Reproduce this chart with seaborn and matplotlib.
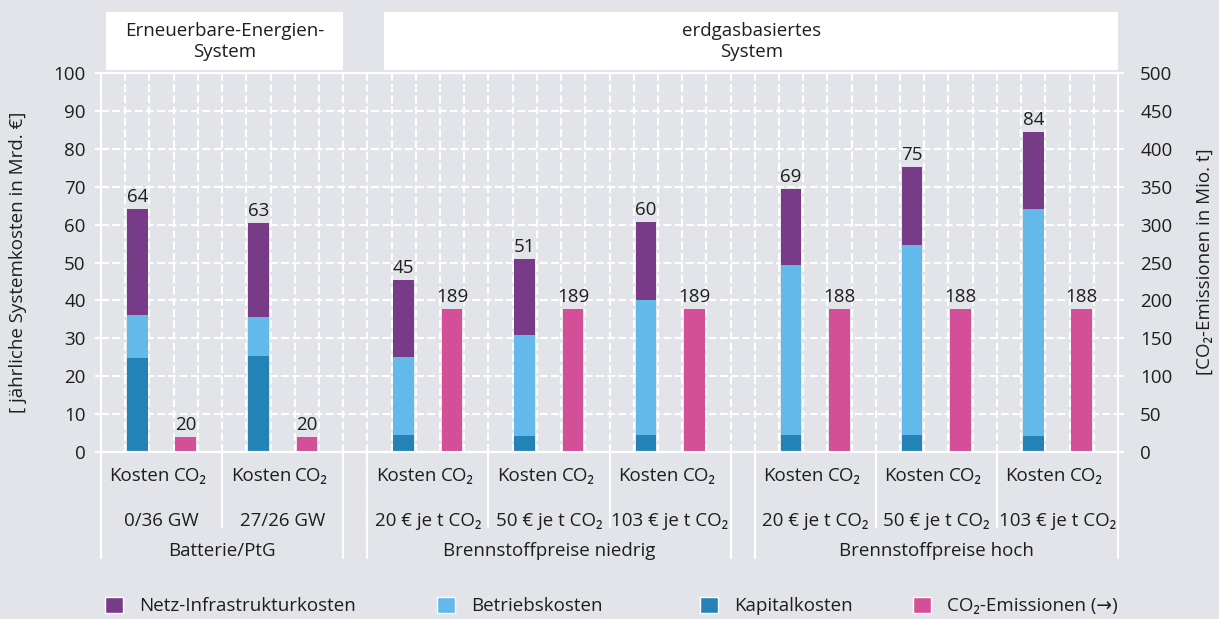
import matplotlib
matplotlib.use("Agg")
import matplotlib.pyplot as plt
import matplotlib.transforms as mtransforms
from matplotlib.patches import Patch, Rectangle
import numpy as np
import pandas as pd
import seaborn as sns

# --- data ------------------------------------------------------------------
header_labels = ["Erneuerbare-Energien-\nSystem", "erdgasbasiertes\nSystem"]
family_labels = ["Batterie/PtG", "Brennstoffpreise niedrig", "Brennstoffpreise hoch"]
family_sizes = [2, 3, 3]
scenario_labels = ["0/36 GW", "27/26 GW",
                   "20 € je t CO₂", "50 € je t CO₂", "103 € je t CO₂",
                   "20 € je t CO₂", "50 € je t CO₂", "103 € je t CO₂"]
bar_labels = ["Kosten", "CO₂"]

kapitalkosten = [24.8, 25.3, 4.5, 4.2, 4.5, 4.5, 4.5, 4.2]
betriebskosten = [11.3, 10.3, 20.6, 26.7, 35.6, 44.8, 50.1, 59.9]
netzkosten = [28.0, 24.8, 20.3, 20.0, 20.6, 20.1, 20.6, 20.3]
kosten_labels = [64, 63, 45, 51, 60, 69, 75, 84]
co2_emissionen = [20, 20, 189, 189, 189, 188, 188, 188]

legend_labels = ["Netz-Infrastrukturkosten", "Betriebskosten", "Kapitalkosten",
                 "CO₂-Emissionen (→)"]

# --- style -------------------------------------------------------------------
BG = "#e3e4e9"
C_NETZ = "#773b88"
C_BETRIEB = "#63b9e9"
C_KAPITAL = "#2383b6"
C_CO2 = "#d35098"
TXT = "#1e1e1e"
FS = 13.5

sns.set_theme(style="ticks", rc={"axes.facecolor": BG, "figure.facecolor": BG})
plt.rcParams["font.family"] = ["Open Sans", "DejaVu Sans"]

W, H = 1219, 619
fig = plt.figure(figsize=(W / 100, H / 100), dpi=100)
ax = fig.add_axes([101 / W, 1 - 452 / H, 1017 / W, 379 / H])
ax2 = ax.twinx()

# slot layout: each scenario group spans 5 slots, one empty slot between families
group_start = []
s = 0
for n in family_sizes:
    for _ in range(n):
        group_start.append(s)
        s += 5
    s += 1
n_slots = s - 1
group_start = np.array(group_start, dtype=float)
kosten_pos = group_start + 1.5
co2_pos = group_start + 3.5
bar_w = 0.85 / 5  # seaborn native width unit = 5 slots

kap = np.array(kapitalkosten)
bet = np.array(betriebskosten)
net = np.array(netzkosten)
df = pd.DataFrame({"pos": kosten_pos, "total": kap + bet + net,
                   "kap_bet": kap + bet, "kap": kap})
df_co2 = pd.DataFrame({"pos": co2_pos, "co2": co2_emissionen})

common = dict(native_scale=True, orient="x", errorbar=None, saturation=1,
              width=bar_w, linewidth=0)
sns.barplot(data=df, x="pos", y="total", color=C_NETZ, ax=ax, **common)
sns.barplot(data=df, x="pos", y="kap_bet", color=C_BETRIEB, ax=ax, **common)
sns.barplot(data=df, x="pos", y="kap", color=C_KAPITAL, ax=ax, **common)
sns.barplot(data=df_co2, x="pos", y="co2", color=C_CO2, ax=ax2, **common)

for x, top, lab in zip(kosten_pos, df["total"], kosten_labels):
    ax.text(x, top + 0.8, str(lab), ha="center", va="bottom", fontsize=FS, color=TXT)
for x, v in zip(co2_pos, co2_emissionen):
    ax2.text(x, v + 4.0, str(v), ha="center", va="bottom", fontsize=FS, color=TXT)

# axes
ax.set_xlim(0, n_slots)
ax.set_ylim(0, 100)
ax2.set_ylim(0, 500)
ax.set_yticks(np.arange(0, 101, 10))
ax2.set_yticks(np.arange(0, 501, 50))
ax.set_xlabel("")
ax.set_ylabel("")
ax2.set_xlabel("")
ax2.set_ylabel("")

ax.set_xticks(np.arange(0, n_slots + 1), minor=True)
# label positions nudged slightly right, as in the original
xt = np.ravel(np.column_stack([kosten_pos + 0.1, co2_pos + 0.2]))
ax.set_xticks(xt, bar_labels * len(group_start))
ax.tick_params(axis="x", which="both", length=0, pad=11, labelsize=FS, colors=TXT)
ax.tick_params(axis="y", length=4, width=1.5, color="white", pad=7,
               labelsize=FS, labelcolor=TXT)
ax2.tick_params(axis="y", length=4, width=1.5, color="white", pad=12,
                labelsize=FS, labelcolor=TXT)

ax.grid(False)
ax2.grid(False)
grid_kw = dict(color="white", linewidth=1.5, linestyle=(0, (3.8, 1.6)))
ax.grid(True, which="minor", axis="x", **grid_kw)
ax.grid(True, which="major", axis="y", **grid_kw)
ax.set_axisbelow(True)

for a in (ax, ax2):
    for sp in a.spines.values():
        sp.set_color("white")
        sp.set_linewidth(1.5)
ax.spines["right"].set_visible(False)
ax2.spines["left"].set_visible(False)
ax2.patch.set_visible(False)

# category rows below the axis
trans = mtransforms.blended_transform_factory(ax.transData, ax.transAxes)
for g0, lab in zip(group_start, scenario_labels):
    ax.text(g0 + 2.5, -0.182, lab, transform=trans, ha="center", va="center",
            fontsize=FS, color=TXT)
f0 = 0
fam_bounds = []
for n, lab in zip(family_sizes, family_labels):
    a, b = group_start[f0], group_start[f0 + n - 1] + 5
    ax.text((a + b) / 2, -0.262, lab, transform=trans, ha="center", va="center",
            fontsize=FS, color=TXT)
    fam_bounds.append((a, b))
    f0 += n
for a, b in fam_bounds:
    for x in (a, b):
        ax.plot([x, x], [0, -0.28], transform=trans, color="white", lw=1.5,
                clip_on=False)
for g0 in group_start:
    if not any(np.isclose(g0, a) for a, _ in fam_bounds):
        ax.plot([g0, g0], [0, -0.198], transform=trans, color="white", lw=1.5,
                clip_on=False)

# header boxes
headers = [(0.2, 10.0), (11.7, n_slots)]
for (a, b), lab in zip(headers, header_labels):
    ax.add_patch(Rectangle((a, 1.008), b - a, 0.153, transform=trans,
                           facecolor="white", edgecolor="none", clip_on=False))
    ax.text((a + b) / 2, 1.083, lab, transform=trans, ha="center", va="center",
            fontsize=FS, color=TXT, linespacing=1.15)

# axis titles
fig.text(18 / W, 1 - 262 / H, "[ jährliche Systemkosten in Mrd. €]", rotation=90,
         ha="center", va="center", fontsize=FS, color=TXT)
fig.text(1205 / W, 1 - 262 / H, "[CO₂-Emissionen in Mio. t]", rotation=90,
         ha="center", va="center", fontsize=FS, color=TXT)

# legend, one entry per block
for x, col, lab in zip([105, 437, 700, 913], [C_NETZ, C_BETRIEB, C_KAPITAL, C_CO2],
                       legend_labels):
    fig.legend(handles=[Patch(facecolor=col, edgecolor="white", linewidth=1)],
               labels=[lab], loc="center left", bbox_to_anchor=(x / W, 1 - 606 / H),
               frameon=False, fontsize=FS, handlelength=0.95, handleheight=0.95,
               handletextpad=0.85, borderpad=0, borderaxespad=0, labelcolor=TXT)

fig.savefig("out.png", dpi=100, facecolor=BG)
